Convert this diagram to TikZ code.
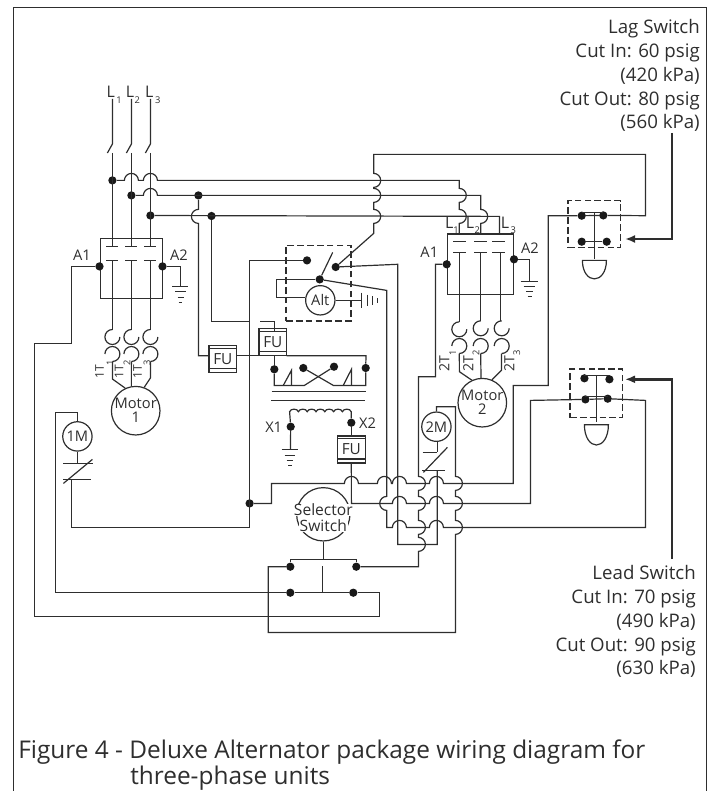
\documentclass[tikz,border=0pt]{standalone}
\usepackage{fontspec}
\setmainfont{Open Sans}
\usetikzlibrary{arrows.meta}
\definecolor{ink}{HTML}{2E2E2E}
\newcommand\humpU[2]{-- ({#1-7},#2) .. controls +(0,-3.87) and +(-3.87,0) .. (#1,{#2-7}) .. controls +(3.87,0) and +(0,-3.87) .. ({#1+7},#2)}
\newcommand\humpR[2]{-- (#1,{#2-7}) .. controls +(3.87,0) and +(0,-3.87) .. ({#1+7},#2) .. controls +(0,3.87) and +(3.87,0) .. (#1,{#2+7})}
\newcommand\humpL[2]{-- (#1,{#2-7}) .. controls +(-3.87,0) and +(0,-3.87) .. ({#1-7},#2) .. controls +(0,3.87) and +(-3.87,0) .. (#1,{#2+7})}
\newcommand\coilU[2]{(#1,{#2-7.5}) .. controls +(-4.14,0) and +(0,-4.14) .. ({#1-7.5},#2) .. controls +(0,4.14) and +(-4.14,0) .. (#1,{#2+7.5}) .. controls +(4.14,0) and +(0,4.14) .. ({#1+7.5},#2)}
\newcommand\coilL[2]{({#1-7.5},#2) .. controls +(0,-4.14) and +(-4.14,0) .. (#1,{#2-7.5}) .. controls +(4.14,0) and +(0,-4.14) .. ({#1+7.5},#2) .. controls +(0,4.14) and +(4.14,0) .. (#1,{#2+7.5})}
\newcommand\bell[3]{({#1-12},#2) -- ({#1+12},#2) .. controls ({#1+12},{#2+#3*0.65}) and ({#1+6},{#2+#3}) .. (#1,{#2+#3}) .. controls ({#1-6},{#2+#3}) and ({#1-12},{#2+#3*0.65}) .. cycle}
\tikzset{
  wire/.style={draw=ink,line width=0.9pt},
  thickwire/.style={draw=ink,line width=1.8pt},
  jdot/.style={circle,fill=black!90,draw=none,minimum size=6.2pt,inner sep=0pt},
  txt/.style={text=ink,font=\fontsize{11}{12}\selectfont,inner sep=0pt},
  ltxt/.style={text=ink,font=\fontsize{12}{12}\selectfont,inner sep=0pt},
  seltext/.style={text=ink,font=\fontsize{11.7}{12}\selectfont,inner sep=0pt,fill=white,inner xsep=0.5pt},
  sub/.style={text=ink,font=\fontsize{7}{7}\selectfont,inner sep=0pt},
  circ/.style={circle,draw=ink,line width=0.9pt,inner sep=0pt,text=ink,align=center,font=\fontsize{11}{12}\selectfont},
  dashbox/.style={draw=ink,line width=0.9pt,dash pattern=on 5pt off 2.4pt,inner sep=0pt},
  solidbox/.style={draw=ink,line width=0.9pt,inner sep=0pt},
  fubox/.style={draw=ink,line width=0.9pt,inner sep=0pt,minimum width=20.8pt,minimum height=20.3pt,text=ink,
    font=\fontsize{11.5}{12}\selectfont,
    path picture={\draw[ink,line width=0.7pt] ([yshift=-2.2pt]path picture bounding box.north west) -- ([yshift=-2.2pt]path picture bounding box.north east);
      \draw[ink,line width=0.9pt] ([yshift=3pt]path picture bounding box.south west) -- ([yshift=3pt]path picture bounding box.south east);}},
  note/.style={text=ink,align=right,inner sep=0pt,font=\fontsize{14}{17.8}\selectfont},
  caption/.style={text=ink,inner sep=0pt,font=\fontsize{18.3}{20}\selectfont},
}
\begin{document}
\begin{tikzpicture}[x=0.75pt,y=-0.75pt]
\useasboundingbox (0,0) rectangle (713,791);
% frame
\coordinate (fa) at (13.4,791); \coordinate (fb) at (13.4,7.4); \coordinate (fc) at (706.4,7.4); \coordinate (fd) at (706.4,791);
\draw[wire] (fa) -- (fb) -- (fc) -- (fd);
% boxes
\node[solidbox,minimum width=46.5pt,minimum height=45pt] (ct1) at (131.4,268.4) {};
\node[solidbox,minimum width=49.5pt,minimum height=45.2pt] (ct2) at (480.3,264.2) {};
\node[dashbox,minimum width=48.75pt,minimum height=56.5pt] (altbox) at (318.5,283.3) {};
\node[dashbox,minimum width=39.2pt,minimum height=35.2pt] (lagbox) at (594.2,224.2) {};
\node[dashbox,minimum width=39.3pt,minimum height=36.5pt] (leadbox) at (596.2,393.3) {};
% junctions
\node[jdot] (j1) at (112.4,180.4) {};
\node[jdot] (j2) at (131.4,195.4) {};
\node[jdot] (j3) at (150.4,215.5) {};
\node[jdot] (j4) at (198.4,195.4) {};
\node[jdot] (j5) at (211.5,216) {};
\node[jdot] (a1a) at (99.5,266.4) {};
\node[jdot] (a2a) at (162.5,266.4) {};
\node[jdot] (a1b) at (446.7,264.3) {};
\node[jdot] (a2b) at (514,259.3) {};
\node[jdot] (sw1) at (307,260.4) {};
\node[jdot] (sw2) at (335.7,267) {};
\node[jdot] (sw3) at (319.7,279.4) {};
\node[jdot] (t1) at (274.3,369.3) {};
\node[jdot] (t2) at (303.3,368) {};
\node[jdot] (t3) at (334,366.7) {};
\node[jdot] (t4) at (365.7,368) {};
\node[jdot] (x1) at (290.7,426.7) {};
\node[jdot] (x2) at (351.3,422.7) {};
\node[jdot] (j6) at (249.6,503.4) {};
\node[jdot] (s1) at (290.3,566.7) {};
\node[jdot] (s2) at (356.3,566.7) {};
\node[jdot] (s3) at (290.3,592.7) {};
\node[jdot] (s4) at (353.3,592.7) {};
\node[jdot] (lg1) at (581.7,215.7) {};
\node[jdot] (lg2) at (603.3,215.4) {};
\node[jdot] (lg3) at (581.7,241.7) {};
\node[jdot] (lg4) at (606.7,241.7) {};
\node[jdot] (ld1) at (584.4,378.3) {};
\node[jdot] (ld2) at (609.4,379.3) {};
\node[jdot] (ld3) at (585.4,399.4) {};
\node[jdot] (ld4) at (607.7,398.7) {};
% circles and FU
\node[circ,minimum size=36pt] (mot1) at (135.7,410.7) {Motor\\[-1.5pt]1};
\node[circ,minimum size=36pt] (mot2) at (482.3,402.7) {Motor\\[-1.5pt]2};
\node[circ,minimum size=22pt] (m1) at (77.4,436.4) {1M};
\node[circ,minimum size=22pt] (m2) at (436.4,426.7) {2M};
\node[circ,minimum size=22pt] (alt) at (320.3,300.3) {Alt};
\node[circ,minimum size=40pt] (sel) at (323.3,514.3) {};
\node[seltext] (seltxt) at (323.3,509.5) {Selector};
\node[seltext] (swtxt) at (323.3,526) {Switch};
\node[fubox] (fu1) at (222.8,359) {FU};
\node[fubox] (fu2) at (272.8,342.3) {FU};
\node[fubox] (fu3) at (351.3,449.5) {FU};
% named ends
\coordinate (l1t) at (112.4,99); \coordinate (l2t) at (131.4,99); \coordinate (l3t) at (150.4,99);
\coordinate (l1c) at (112.4,153); \coordinate (l2c) at (131.4,153); \coordinate (l3c) at (150.4,153);
\coordinate (c1u) at (112.4,246); \coordinate (c2u) at (131.4,246); \coordinate (c3u) at (150.4,246);
% mains and disconnect
\draw[wire] (l1t) -- (112.4,144) -- (107.4,153);
\draw[wire] (l2t) -- (131.4,144) -- (126.4,153);
\draw[wire] (l3t) -- (150.4,144) -- (145.4,153);
\draw[wire] (l1c) -- (c1u);
\draw[wire] (l2c) -- (c2u);
\draw[wire] (l3c) -- (c3u);
% contactor 1 bars
\foreach \x in {112.4,131.4,150.4}{
  \draw[wire] ({\x-6},246.4) -- ({\x+6},246.4);
  \draw[wire] ({\x-6},260.4) -- ({\x+6},260.4);
  \draw[wire] (\x,260.4) -- (\x,329.5);
  \draw[wire] \coilU{\x}{337};
  \draw[wire] \coilL{\x}{354};
}
\draw[wire] (112.4,361.5) -- (112.4,379) -- (mot1.115);
\draw[wire] (131.4,361.5) -- (mot1.100);
\draw[wire] (150.4,361.5) -- (150.4,378) -- (mot1.70);
% phase buses
\draw[wire] (j1) \humpU{131.4}{180.4} \humpU{150.4}{180.4} -- (459.3,180.4) \humpR{459.3}{195.4} \humpR{459.3}{216.4} -- (459.3,234);
\draw[wire] (j2) \humpU{150.4}{195.4} -- (480.7,195.4) \humpR{480.7}{216.4} -- (480.7,234);
\draw[wire] (j3) -- (499.4,216.4) -- (499.4,234);
% tap wires to FU
\draw[wire] (j4) \humpL{198.4}{216.4} -- (198.4,355.7) -- (fu1.west |- 0,355.7);
\draw[wire] (j5) -- (211.5,321.4) -- (249.6,321.4);
\coordinate (fu2in) at (260,321.4);
\draw[wire] (fu2in) -- (274.3,321.4) -- (274.3,331.8);
\draw[wire] (236.7,355.7) -- (260,355.7);
\draw[wire] (286.7,355.7) -- (366,355.7) -- (t4);
\draw[wire] (274.3,355.7) -- (t1);
% transformer primary
\draw[wire] (t1) -- (274.3,385.4) -- (304.4,385.4) -- (t3);
\draw[wire] (t2) -- (333.3,385.4) -- (365.7,385.4) -- (t4);
\draw[wire] (283.3,385.4) -- (291.4,370.4) -- (291.4,385.4);
\draw[wire] (343.3,385.4) -- (351.4,369.3) -- (351.4,385.4);
\draw[wire] (271.7,391.7) -- (365.7,391.7);
\draw[wire] (271.4,400.3) -- (364.7,400.3);
% transformer secondary
\draw[wire] (x1) -- (289.6,411.7) \foreach \k in {0,...,6}{ .. controls +(1,-3.4) and +(-1,-3.4) .. ++(8.8,0)} -- (x2);
\draw[wire] (x1) -- (290.4,449.5);
\draw[wire] (281.7,449.5) -- (298.3,449.5);
\draw[wire] (284.5,455.4) -- (295.4,455.4);
\draw[wire] (286.7,460.4) -- (293.3,460.4);
\draw[wire] (288.3,465.4) -- (291.7,465.4);
\draw[wire] (x2) -- (fu3);
% alternator relay
\draw[wire] (j6 |- 0,527.4) -- (71.4,527.4) -- (71.4,479.4);
\draw[wire] (sw1) -- (249.6,260.4) -- (249.6,527.4);
\draw[wire] (sw3) -- (332.7,252.4);
\draw[wire] (sw3) -- (276.7,279.4) -- (276.7,297.4) -- (alt.west |- 0,297.4);
\draw[wire] (sw3) -- (386.7,290.4) \humpL{386.7}{503.4} -- (386.7,527.4) \humpU{399.4}{527.4} \humpU{436.4}{527.4} -- (645.4,527.4) -- (645.4,400.4) -- (ld4);
\draw[wire] (sw2) -- (397.7,264.3) -- (397.7,544.4) -- (437.3,544.4) -- (437.3,470.7);
\draw[wire] (lg2) -- (645.4,215.7) -- (645.4,154.4) -- (373.7,154.4) \humpR{373.7}{180.4} \humpR{373.7}{195.4} \humpR{373.7}{216.4} -- (373.7,233.4) -- (sw2);
\draw[wire] (alt) -- (361.7,300.3);
\draw[wire] (361.7,292.5) -- (361.7,308);
\draw[wire] (367.3,294.5) -- (367.3,306);
\draw[wire] (372.7,296) -- (372.7,304.5);
\draw[wire] (377.3,298) -- (377.3,302.5);
% contactor 2
\foreach \x in {459.3,480.7,498.5}{
  \draw[wire] ({\x-6.3},241.7) -- ({\x+6.3},241.7);
  \draw[wire] ({\x-6.3},252.7) -- ({\x+6.3},252.7);
}
\draw[wire] (459.3,252.7) -- (459.3,321.8);
\draw[wire] (480.7,252.7) -- (480.7,320.8);
\draw[wire] (500.7,252.7) -- (500.7,320.8);
\draw[wire] \coilU{459.3}{329.3};
\draw[wire] \coilU{480.7}{328.3};
\draw[wire] \coilU{501.7}{328.3};
\draw[wire] \coilL{459.3}{346};
\draw[wire] \coilL{480.7}{346};
\draw[wire] \coilL{501.7}{346};
\draw[wire] (459.3,353.5) -- (459.4,371.7) -- (mot2.115);
\draw[wire] (480.7,353.5) -- (mot2.93);
\draw[wire] (501.4,353.5) -- (501.4,370.4) -- (mot2.67);
% A1 / A2 wiring
\draw[wire] (a2a) -- (180.4,266.4) -- (180.4,286.4);
\draw[wire] (172.4,286.4) -- (188.4,286.4);
\draw[wire] (175.4,291.5) -- (185.5,291.5);
\draw[wire] (177.5,297.4) -- (183.5,297.4);
\draw[wire] (178.5,302.4) -- (182.4,302.4);
\draw[wire] (a2b) -- (529.3,259.3) -- (529.3,281.7);
\draw[wire] (520.7,281.7) -- (537.7,281.7);
\draw[wire] (523.5,286.7) -- (535.4,286.7);
\draw[wire] (526.4,291.7) -- (532.7,291.7);
\draw[wire] (527.5,296.7) -- (531.5,296.7);
\draw[wire] (a1a) -- (71.4,266.4) -- (71.4,343.4) -- (34.4,343.4) -- (34.4,616.4) -- (379.4,616.4) -- (379.4,592.7) -- (s4) -- (s3) -- (55.4,592.7) -- (55.4,412.4) -- (77.4,412.4) -- (m1);
\draw[wire] (a1b) -- (435.4,264.3) -- (435.4,376.7) -- (418.4,376.7) \humpR{418.4}{483.4} \humpR{418.4}{503.4} \humpR{418.4}{527.4} \humpR{418.4}{544.4} -- (418.4,566.7) -- (s2);
% 1M contact
\draw[wire] (m1) -- (77.4,463.4);
\draw[wire] (63.4,463.4) -- (93.4,463.4);
\draw[wire] (63.4,479.4) -- (91.4,479.4);
\draw[wire] (63.4,483.4) -- (92.4,459.4);
% 2M contact
\draw[wire] (m2.south -| 437.3,0) -- (437.3,452.3);
\draw[wire] (422.7,452.3) -- (437.4,452.3);
\draw[wire] (422.4,470.7) -- (445.4,470.7);
\draw[wire] (423.4,472.4) -- (447.4,447.4);
\draw[wire] (m2.north) -- (436.4,406.7) -- (455.4,406.7) \humpR{455.4}{483.4} \humpR{455.4}{503.4} \humpR{455.4}{527.4} -- (455.4,632.4) -- (268.3,632.4) -- (268.3,566.7) -- (s1);
% control buses
\draw[wire] (fu3) -- (351.4,503.4) \humpU{399.4}{503.4} \humpU{436.4}{503.4} -- (530.4,503.4) -- (530.4,400.4) -- (ld3);
\draw[wire] (j6) -- (271.4,503.4) -- (271.4,483.4) \humpU{351.4}{483.4} \humpU{384.4}{483.4} \humpU{399.4}{483.4} \humpU{436.4}{483.4} -- (513.3,483.4) -- (513.3,385.4) -- (548.3,385.4) -- (548.3,215.7) -- (lg1);
% selector
\draw[wire] (sel) -- (323.3,559.4);
\draw[wire] (s1) -- (290.3,559.4) -- (356.3,559.4) -- (s2);
\draw[wire] (322.7,566.4) -- (322.7,592.7);
% lag switch
\draw[wire] (lg1) -- (lg2);
\draw[wire] (lg1 |- 0,212.5) -- (lg2 |- 0,212.5);
\draw[wire] (lg3) -- (lg4);
\draw[wire] (594.4,212.5) -- (594.4,259.4);
\draw[wire] \bell{594.4}{260.4}{18.5};
% lead switch
\draw[wire] (ld1 |- 0,375.4) -- (ld2 |- 0,375.4);
\draw[wire] (ld3) -- (ld4);
\draw[wire] (ld3 |- 0,396.4) -- (ld4 |- 0,396.4);
\draw[wire] (596.4,375.4) -- (596.4,422.3);
\draw[wire] \bell{596.4}{424.7}{20.3};
% pointer arrows
\coordinate (lagtip) at (625,239);
\coordinate (leadtip) at (625,379.3);
\coordinate (lagst) at (671.7,133);
\coordinate (leadst) at (671.7,559);
\draw[thickwire,-{Latex[length=7.5pt,width=6pt]}] (lagst) -- (671.7,239) -- (lagtip);
\draw[thickwire,-{Latex[length=7.5pt,width=6pt]}] (leadst) -- (671.7,379.3) -- (leadtip);
% labels
\node[ltxt] (tL1) at (110.7,92) {L}; \node[sub] (sL1) at (119,100) {1};
\node[ltxt] (tL2) at (130,92) {L}; \node[sub] (sL2) at (137.3,100) {2};
\node[ltxt] (tL3) at (149.3,92) {L}; \node[sub] (sL3) at (157.7,100) {3};
\node[txt] (tA1a) at (82,255) {A1};
\node[txt] (tA2a) at (179,255) {A2};
\node[txt] (tA1b) at (429.3,252.7) {A1};
\node[txt] (tA2b) at (530,248.3) {A2};
\node[ltxt] (tbL1) at (449.3,222.7) {L}; \node[sub] (sbL1) at (456,230) {1};
\node[ltxt] (tbL2) at (470,222.7) {L}; \node[sub] (sbL2) at (477.3,230) {2};
\node[ltxt] (tbL3) at (505,222.7) {L}; \node[sub] (sbL3) at (513.3,230) {3};
\node[txt] (tX1) at (273.7,427.7) {X1};
\node[txt] (tX2) at (367.5,423.3) {X2};
\node[txt,rotate=90,font=\fontsize{9}{10}\selectfont] (t1a) at (99.5,372) {1T}; \node[sub,rotate=90] (st1a) at (110,363) {1};
\node[txt,rotate=90,font=\fontsize{9}{10}\selectfont] (t1b) at (119,372) {1T}; \node[sub,rotate=90] (st1b) at (127,363) {2};
\node[txt,rotate=90,font=\fontsize{9}{10}\selectfont] (t1c) at (137.5,372) {1T}; \node[sub,rotate=90] (st1c) at (147,363) {3};
\node[txt,rotate=90,font=\fontsize{10.5}{11}\selectfont] (t2a) at (444.3,364) {2T}; \node[sub,rotate=90] (st2a) at (452.7,353) {1};
\node[txt,rotate=90,font=\fontsize{10.5}{11}\selectfont] (t2b) at (468.3,364) {2T}; \node[sub,rotate=90] (st2b) at (476,353) {2};
\node[txt,rotate=90,font=\fontsize{10.5}{11}\selectfont] (t2c) at (509.3,364) {2T}; \node[sub,rotate=90] (st2c) at (516.7,353) {3};
\node[note,anchor=north east] (lagnote) at (700,19.5) {Lag Switch\\Cut In: 60 psig\\(420 kPa)\\Cut Out: 80 psig\\(560 kPa)};
\node[note,anchor=north east] (leadnote) at (696,565.5) {Lead Switch\\Cut In: 70 psig\\(490 kPa)\\Cut Out: 90 psig\\(630 kPa)};
\node[caption,anchor=base west] (cap1) at (18,758) {Figure 4 - Deluxe Alternator package wiring diagram for};
\node[caption,anchor=base west] (cap2) at (130,784.5) {three-phase units};
\end{tikzpicture}
\end{document}
